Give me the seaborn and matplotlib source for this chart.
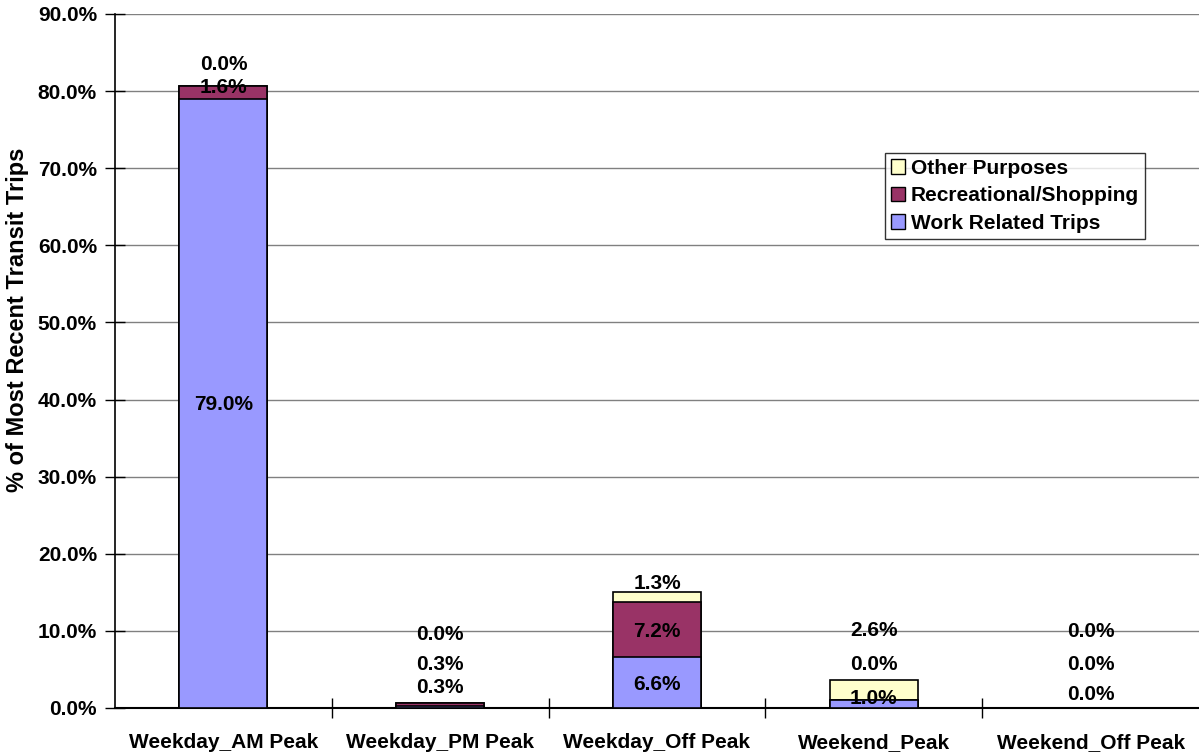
import pandas as pd
import seaborn as sns
import matplotlib.pyplot as plt
from matplotlib.patches import Patch
from matplotlib.ticker import FixedLocator

# %% DATA

periods = ['Weekday_AM Peak', 'Weekday_PM Peak', 'Weekday_Off Peak', 'Weekend_Peak', 'Weekend_Off Peak']
work = [79.0, 0.3, 6.6, 1.0, 0.0]
recreational = [1.6, 0.3, 7.2, 0.0, 0.0]
other = [0.0, 0.0, 1.3, 2.6, 0.0]

# where the value labels sit (in % units)
work_label_y = [39.3, 2.7, 3.1, 1.2, 1.8]
rec_label_y = [80.5, 5.6, 9.9, 5.7, 5.6]
other_label_y = [83.4, 9.5, 16.2, 10.0, 9.9]

yticks = [0, 10, 20, 30, 40, 50, 60, 70, 80, 90]

df = pd.DataFrame({'Period': periods, 'Work': work, 'Rec': recreational, 'Other': other})
df['WorkRec'] = df['Work'] + df['Rec']
df['Total'] = df['WorkRec'] + df['Other']

# %% STYLE

sns.set_style('white')
plt.rcParams['font.family'] = ['Liberation Sans', 'DejaVu Sans']
plt.rcParams['font.weight'] = 'bold'
plt.rcParams['text.color'] = 'black'
plt.rcParams['axes.labelcolor'] = 'black'
plt.rcParams['xtick.color'] = 'black'
plt.rcParams['ytick.color'] = 'black'
FS = 15

c_work, c_rec, c_other = '#9999FF', '#993366', '#FFFFCC'

fig = plt.figure(figsize=(11.99, 7.56), dpi=100)
ax = fig.add_axes([0.0959, 0.0635, 0.9041, 0.918])

# %% PLOT (layered cumulative totals)

bar_kw = dict(x='Period', order=periods, width=0.405, edgecolor='black', linewidth=1.2, ax=ax, zorder=3)
sns.barplot(data=df, y='Total', color=c_other, **bar_kw)
sns.barplot(data=df, y='WorkRec', color=c_rec, **bar_kw)
sns.barplot(data=df, y='Work', color=c_work, **bar_kw)
for p, c in zip(ax.patches, [c_other] * 5 + [c_rec] * 5 + [c_work] * 5):
    p.set_facecolor(c)  # undo seaborn desaturation

for i in range(len(periods)):
    ax.text(i, work_label_y[i], f'{work[i]:.1f}%', ha='center', va='center', fontsize=FS, fontweight='bold', zorder=5)
    ax.text(i, rec_label_y[i], f'{recreational[i]:.1f}%', ha='center', va='center', fontsize=FS, fontweight='bold', zorder=5)
    ax.text(i, other_label_y[i], f'{other[i]:.1f}%', ha='center', va='center', fontsize=FS, fontweight='bold', zorder=5)

# %% AXES

ax.set_xlim(-0.5, len(periods) - 0.5)
ax.set_ylim(0, 90)
ax.set_yticks(yticks)
ax.set_yticklabels([f'{v:.1f}%' for v in yticks], fontsize=FS, fontweight='bold')
ax.set_xticks(range(len(periods)))
ax.set_xticklabels(periods, fontsize=FS, fontweight='bold')
ax.xaxis.set_minor_locator(FixedLocator([0.5, 1.5, 2.5, 3.5]))
ax.tick_params(axis='x', which='major', length=0, pad=18)
ax.tick_params(axis='x', which='minor', direction='inout', length=14, width=1, color='black', bottom=True)
ax.tick_params(axis='y', direction='inout', length=14, width=1, color='black', left=True, pad=6)
ax.set_xlabel('')
ax.set_ylabel('% of Most Recent Transit Trips', fontsize=17, fontweight='bold')
ax.yaxis.set_label_coords(-0.079, 0.559)

ax.grid(axis='y', color='#808080', linewidth=1, zorder=0)
ax.set_axisbelow(True)
sns.despine(ax=ax, top=True, right=True)
ax.spines['left'].set_color('black')
ax.spines['bottom'].set_color('black')
ax.spines['left'].set_linewidth(1.2)
ax.spines['bottom'].set_linewidth(1.5)

handles = [Patch(facecolor=c_other, edgecolor='black', label='Other Purposes'),
           Patch(facecolor=c_rec, edgecolor='black', label='Recreational/Shopping'),
           Patch(facecolor=c_work, edgecolor='black', label='Work Related Trips')]
leg = ax.legend(handles=handles, loc='upper left', bbox_to_anchor=(0.710, 0.80),
                frameon=True, fancybox=False, edgecolor='black',
                handlelength=0.7, handleheight=0.7, handletextpad=0.25,
                labelspacing=0.4, borderpad=0.3, borderaxespad=0, prop={'weight': 'bold', 'size': FS})
leg.get_frame().set_linewidth(1)
leg.set_zorder(6)

fig.savefig('out.png', dpi=100)
